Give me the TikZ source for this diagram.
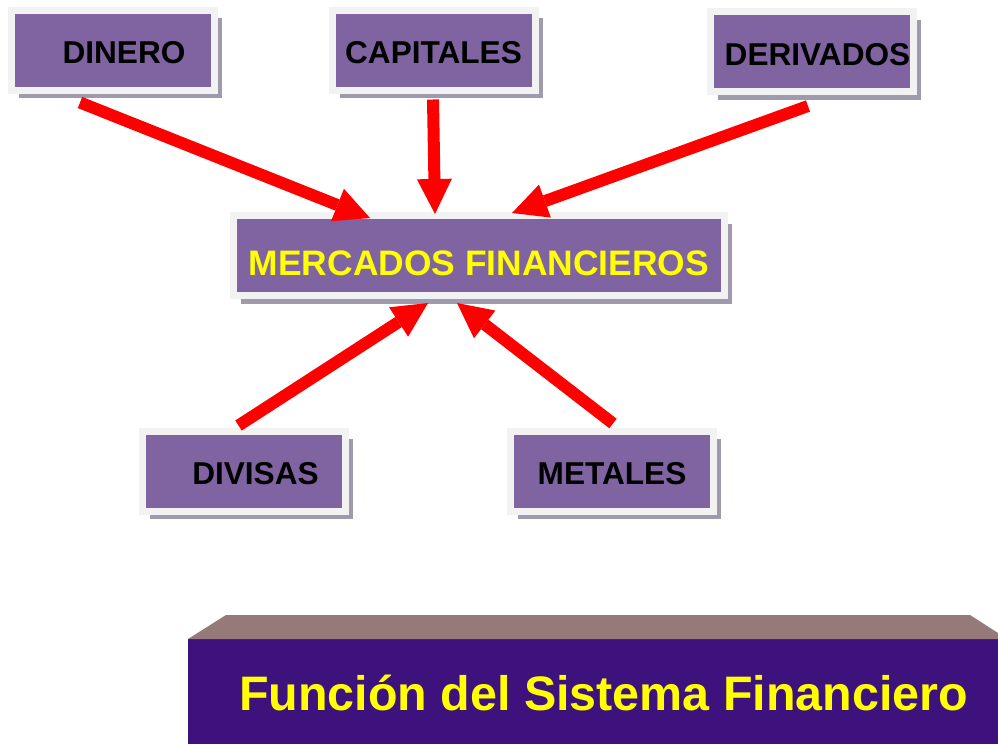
\documentclass[tikz,border=0pt]{standalone}
\usepackage{fontspec}
\setmainfont{Liberation Sans}
\usetikzlibrary{arrows.meta,shadows}
\definecolor{cajamorado}{RGB}{128,100,162}
\definecolor{cajamarco}{RGB}{242,242,242}
\definecolor{cajasombra}{RGB}{160,154,174}
\definecolor{flecharoja}{RGB}{255,0,0}
\definecolor{textoamarillo}{RGB}{255,255,0}
\definecolor{bandamorado}{RGB}{62,18,124}
\definecolor{bandabisel}{RGB}{150,122,122}

\begin{document}
\begin{tikzpicture}
[
    x=1pt, y=-1pt,
    caja/.style={fill=cajamorado, draw=cajamarco, line width=7pt, inner sep=0pt,
        minimum width=203pt, minimum height=80pt, text height=27pt, text depth=0pt,
        drop shadow={shadow xshift=7.5pt, shadow yshift=-8pt, fill=cajasombra, opacity=1},
        font=\bfseries\fontsize{31.6}{32}\selectfont},
    flecha/.style={flecharoja, line width=12pt,
        -{Triangle[width=35pt, length=35pt, line width=0pt]}},
]
\useasboundingbox (0,0) rectangle (998,744);

\node[caja] (dinero) at (113,50) {\hspace*{22pt}DINERO};
\node[caja] (capitales) at (433.5,50) {CAPITALES};
\node[caja] (derivados) at (812,51.5) {\hspace*{11pt}DERIVADOS};
\node[caja, minimum width=491pt, text=textoamarillo, text height=39pt,
    font=\bfseries\fontsize{35.4}{36}\selectfont] (mercados) at (479,255.5) {MERCADOS FINANCIEROS};
\node[caja] (divisas) at (243.5,471) {\hspace*{24pt}DIVISAS};
\node[caja] (metales) at (612,471) {METALES};

\draw[flecha] ([xshift=72pt, yshift=-9pt]dinero.south west) -- ([xshift=140pt, yshift=-6pt]mercados.north west);
\draw[flecha] ([xshift=104.5pt, yshift=-6pt]capitales.south west) -- ([xshift=205pt, yshift=-2pt]mercados.north west);
\draw[flecha] ([xshift=101pt, yshift=-11pt]derivados.south west) -- ([xshift=282pt, yshift=-1pt]mercados.north west);
\draw[flecha] ([xshift=100pt, yshift=2pt]divisas.north west) -- ([xshift=198pt, yshift=-4pt]mercados.south west);
\draw[flecha] ([xshift=106pt, yshift=4pt]metales.north west) -- ([xshift=227pt, yshift=-4pt]mercados.south west);

\fill[bandamorado] (188,639) rectangle (998,744);
\fill[bandabisel] (188,639) -- (226,615) -- (970,615) -- (998,633) -- (998,639) -- cycle;
\node[text=textoamarillo, anchor=base, font=\bfseries\fontsize{48.4}{49}\selectfont]
    (titulo) at (603.5,710) {Función del Sistema Financiero};
\end{tikzpicture}
\end{document}
